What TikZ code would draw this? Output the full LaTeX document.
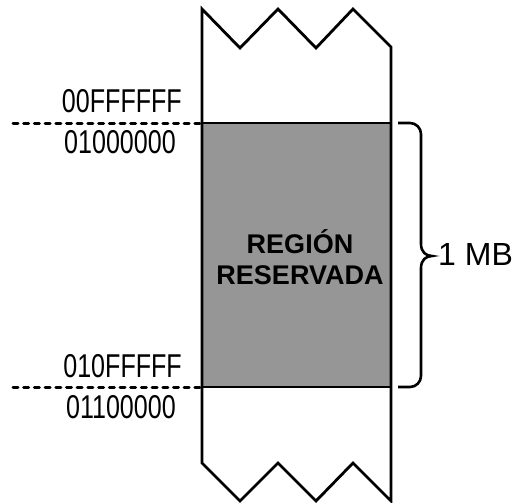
\documentclass[tikz,border=0pt]{standalone}
\usepackage{fontspec}
\setmainfont{Liberation Sans}
\newfontfamily\narrowfont[FakeStretch=0.76]{Liberation Sans}
\begin{document}
\begin{tikzpicture}[x=1pt,y=-1pt,
  wall/.style={line width=2.8pt,line join=miter},
  addr/.style={font=\narrowfont\fontsize{33}{35}\selectfont,anchor=base east,inner sep=0pt},
  sepline/.style={line width=3pt,line cap=round,dash pattern=on 5pt off 5.7pt},
  title/.style={font=\bfseries\fontsize{27}{31.5}\selectfont,align=center,inner sep=0pt},
  size/.style={font=\fontsize{32}{34}\selectfont,anchor=base west,inner sep=0pt}]
\useasboundingbox (0,0) rectangle (517,503);
% reserved region
\fill[fill={rgb,255:red,150;green,150;blue,150}] (202,123) rectangle (391,387);
% column outline
\draw[wall] (202,9) -- (240,48) -- (278,9) -- (316,48) -- (353,9) -- (391,47) -- (391,501)
  -- (353,463) -- (316,501) -- (278,463) -- (240,501) -- (202,463) -- cycle;
\draw[wall] (202,123) -- (391,123);
\draw[wall] (202,387) -- (391,387);
% dashed boundary lines
\coordinate (d1a) at (13,123); \coordinate (d1b) at (200,123);
\coordinate (d2a) at (13,387); \coordinate (d2b) at (200,387);
\draw[sepline] (d1a) -- (d1b);
\draw[sepline] (d2a) -- (d2b);
% address labels
\node[addr] (a1) at (182,112) {00FFFFFF};
\node[addr] (a2) at (176,153) {01000000};
\node[addr] (a3) at (182,377) {010FFFFF};
\node[addr] (a4) at (176,418) {01100000};
% title
\node[title] (t) at (300,257) {REGIÓN\\RESERVADA};
% brace
\coordinate (b1) at (398,123);
\coordinate (b2) at (398,387);
\coordinate (tip) at (432,256);
\draw[line width=2.6pt] (b1) -- (410,123) .. controls (416,123) and (421,128) .. (421,134)
  -- (421,244) .. controls (421,252) and (426,256) .. (tip)
  .. controls (426,256) and (421,260) .. (421,268)
  -- (421,376) .. controls (421,382) and (416,387) .. (410,387) -- (b2);
\node[size] (mb) at (438,265) {1 MB};
\end{tikzpicture}
\end{document}
